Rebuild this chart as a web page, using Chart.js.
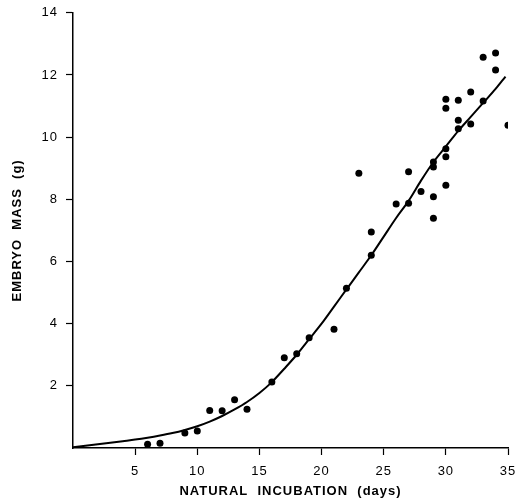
<!DOCTYPE html>
<html>
<head>
<meta charset="utf-8">
<script src="https://cdn.jsdelivr.net/npm/chart.js@4"></script>
<style>
  body { margin: 0; background: #fff; overflow: hidden; }
  #wrap { width: 528px; height: 506px; margin-top: -3px; }
</style>
</head>
<body>
<div id="wrap"><canvas id="massChart"></canvas></div>
<script>
// observed embryo masses
const obsDays = [6, 7, 9, 10, 11, 12, 13, 14, 16, 17, 18, 19, 21, 22, 24, 24, 23, 26, 27, 27,
  28, 29, 29, 29, 29, 30, 30, 30, 30, 30, 31, 31, 31, 32, 32, 33, 33, 34, 34, 35];
const obsMass = [0.12, 0.15, 0.48, 0.55, 1.21, 1.2, 1.55, 1.25, 2.12, 2.9, 3.03, 3.55, 3.82, 5.14, 6.2, 6.95, 8.84, 7.85, 7.87, 8.89,
  8.25, 8.08, 7.39, 9.2, 9.04, 9.63, 9.37, 8.45, 11.22, 10.93, 11.19, 10.54, 10.27, 11.45, 10.42, 12.57, 11.16, 12.71, 12.16, 10.38];

// fitted growth curve
const fitDays = [0, 1, 2, 3, 4, 5, 6, 7, 8, 9, 10, 11, 12, 13, 14, 15, 16, 17, 18, 19, 20,
  21, 22, 23, 24, 25, 26, 27, 28, 29, 30, 31, 32, 33, 34, 34.8];
const fitMass = [0.02, 0.07, 0.12, 0.17, 0.22, 0.27, 0.33, 0.4, 0.48, 0.58, 0.7, 0.85, 1.03, 1.24, 1.48, 1.77, 2.12, 2.55, 3.0, 3.5, 4.0,
  4.55, 5.1, 5.65, 6.2, 6.8, 7.4, 7.95, 8.6, 9.2, 9.7, 10.2, 10.65, 11.1, 11.55, 11.95];

const xTicks = [5, 10, 15, 20, 25, 30, 35];
const yTicks = [2, 4, 6, 8, 10, 12, 14];

const spacing = {
  id: "spacing",
  beforeLayout(chart) { chart.ctx.letterSpacing = "1px"; },
  beforeDraw(chart) { chart.ctx.letterSpacing = "1px"; },
};

const tickFont = { family: "Liberation Sans, Arial, sans-serif", size: 13 };
const titleFont = { family: "Liberation Sans, Arial, sans-serif", size: 13, weight: "bold" };
const tickColor = (c) => (c.tick && c.tick.value === 0 ? "rgba(0,0,0,0)" : "#000");

const ctx = document.getElementById("massChart").getContext("2d");
const massChart = new Chart(ctx, {
  type: "scatter",
  data: {
    datasets: [
      {
        type: "line",
        data: fitDays.map((d, i) => ({ x: d, y: fitMass[i] })),
        borderColor: "#000",
        borderWidth: 2,
        pointRadius: 0,
        cubicInterpolationMode: "monotone",
        fill: false,
      },
      {
        data: obsDays.map((d, i) => ({ x: d, y: obsMass[i] })),
        backgroundColor: "#000",
        borderWidth: 0,
        pointRadius: 3.5,
      },
    ],
  },
  options: {
    responsive: true,
    maintainAspectRatio: false,
    animation: false,
    layout: { padding: { top: 9, right: 20, left: 0, bottom: 0 } },
    plugins: { legend: { display: false }, tooltip: { enabled: false } },
    scales: {
      x: {
        type: "linear",
        min: 0,
        max: 35,
        afterBuildTicks: (s) => { s.ticks = [0].concat(xTicks).map((v) => ({ value: v })); },
        afterFit: (s) => { s.height = 55; },
        ticks: { color: "#000", font: tickFont, padding: 9, maxRotation: 0,
          callback: (v) => (v === 0 ? "" : v) },
        grid: { drawOnChartArea: false, tickLength: 7, tickWidth: 1.2, color: tickColor },
        border: { color: "#000", width: 1.5 },
        title: { display: true, text: "NATURAL  INCUBATION  (days)", color: "#000", font: titleFont, padding: { top: 0 } },
      },
      y: {
        min: 0,
        max: 14,
        afterBuildTicks: (s) => { s.ticks = [0].concat(yTicks).map((v) => ({ value: v })); },
        afterFit: (s) => { s.width = 73; },
        ticks: { color: "#000", font: tickFont, padding: 8,
          callback: (v) => (v === 0 ? "" : v) },
        grid: { drawOnChartArea: false, tickLength: 7, tickWidth: 1.2, color: tickColor },
        border: { color: "#000", width: 1.5 },
        title: { display: true, text: "EMBRYO  MASS  (g)", color: "#000", font: titleFont, padding: { top: 10, bottom: 0 } },
      },
    },
  },
  plugins: [spacing],
});
</script>
</body>
</html>
